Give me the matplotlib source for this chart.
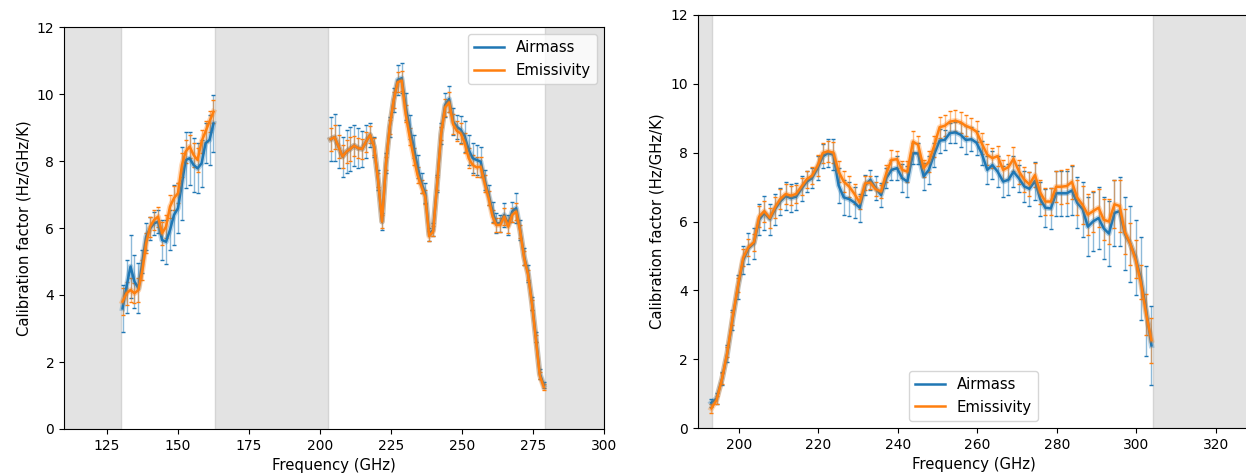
import numpy as np
import matplotlib
matplotlib.use("Agg")
import matplotlib.pyplot as plt


# ---- left panel: two observing bands ----
freq_a = [130.6, 132.0, 133.4, 134.8, 136.2, 137.6, 138.9, 140.3, 141.7, 143.1,
          144.5, 145.9, 147.3, 148.7, 150.1, 151.5, 152.8, 154.2, 155.6, 157.0,
          158.4, 159.8, 161.2, 162.6]
airmass_a = [3.60, 4.25, 4.85, 4.40, 4.20, 5.00, 5.74, 5.99, 6.14, 6.19,
             5.64, 5.59, 5.94, 6.39, 6.59, 7.33, 8.03, 8.08, 7.88, 7.78,
             7.93, 8.53, 8.63, 9.12]
airmass_a_err = [0.70, 0.80, 0.95, 0.80, 0.75, 0.35, 0.40, 0.35, 0.35, 0.35,
                 0.60, 0.65, 0.60, 0.90, 0.75, 1.10, 0.85, 0.80, 0.80, 0.75,
                 0.70, 0.60, 0.75, 0.85]
emis_a = [3.80, 4.05, 4.15, 4.05, 4.15, 4.75, 5.54, 6.04, 6.24, 6.34,
          5.84, 6.04, 6.64, 6.89, 7.04, 7.88, 8.28, 8.43, 8.18, 8.03,
          8.58, 8.88, 9.18, 9.47]
emis_a_err = [0.40, 0.35, 0.35, 0.30, 0.35, 0.30, 0.30, 0.30, 0.30, 0.30,
              0.35, 0.35, 0.35, 0.35, 0.30, 0.35, 0.35, 0.35, 0.35, 0.35,
              0.35, 0.30, 0.30, 0.35]

freq_b = [203.8, 205.2, 206.6, 208.0, 209.4, 210.7, 212.1, 213.5, 214.9, 216.3,
          217.7, 219.1, 220.5, 221.9, 223.3, 224.6, 226.0, 227.4, 228.8, 230.2,
          231.6, 233.0, 234.4, 235.8, 237.1, 238.5, 239.9, 241.3, 242.7, 244.1,
          245.5, 246.9, 248.2, 249.6, 251.0, 252.4, 253.8, 255.2, 256.6, 258.0,
          259.4, 260.8, 262.1, 263.5, 264.9, 266.3, 267.7, 269.1, 270.5, 271.9,
          273.3, 274.7, 276.0, 277.4, 278.8]
airmass_b = [8.65, 8.71, 8.43, 8.13, 8.28, 8.36, 8.46, 8.38, 8.36, 8.58,
             8.78, 8.43, 7.43, 6.19, 7.93, 9.02, 9.82, 10.42, 10.47, 9.62,
             9.02, 8.43, 7.83, 7.33, 7.04, 5.80, 5.95, 7.33, 8.82, 9.67,
             9.85, 9.18, 9.02, 8.93, 8.73, 8.33, 8.08, 8.03, 7.98, 7.43,
             6.99, 6.49, 6.14, 6.14, 6.39, 6.09, 6.49, 6.59, 5.94, 5.14,
             4.65, 3.75, 2.75, 1.65, 1.31]
airmass_b_err = [0.65, 0.70, 0.65, 0.60, 0.65, 0.65, 0.60, 0.60, 0.55, 0.50,
                 0.35, 0.30, 0.30, 0.25, 0.30, 0.30, 0.35, 0.45, 0.45, 0.40,
                 0.35, 0.35, 0.35, 0.30, 0.30, 0.20, 0.20, 0.25, 0.30, 0.35,
                 0.40, 0.40, 0.35, 0.40, 0.45, 0.45, 0.45, 0.45, 0.45, 0.30,
                 0.30, 0.30, 0.30, 0.25, 0.35, 0.30, 0.30, 0.45, 0.30, 0.25,
                 0.25, 0.20, 0.15, 0.15, 0.10]
emis_b = [8.65, 8.71, 8.43, 8.13, 8.28, 8.36, 8.46, 8.38, 8.36, 8.58,
          8.78, 8.43, 7.43, 6.19, 7.93, 9.02, 9.82, 10.35, 10.40, 9.42,
          8.73, 8.13, 7.58, 7.23, 6.93, 5.75, 5.90, 7.33, 8.82, 9.60,
          9.75, 9.10, 8.90, 8.82, 8.53, 8.08, 7.88, 7.81, 7.83, 7.33,
          6.89, 6.34, 6.09, 6.09, 6.34, 6.04, 6.39, 6.49, 5.90, 5.10,
          4.60, 3.70, 2.70, 1.60, 1.25]
emis_b_err = [0.35, 0.35, 0.35, 0.35, 0.35, 0.35, 0.30, 0.30, 0.30, 0.30,
              0.25, 0.25, 0.20, 0.20, 0.20, 0.20, 0.25, 0.30, 0.30, 0.25,
              0.25, 0.25, 0.25, 0.20, 0.20, 0.15, 0.15, 0.20, 0.20, 0.25,
              0.30, 0.30, 0.30, 0.30, 0.30, 0.30, 0.30, 0.30, 0.30, 0.25,
              0.20, 0.20, 0.20, 0.20, 0.25, 0.20, 0.20, 0.25, 0.20, 0.20,
              0.15, 0.15, 0.10, 0.10, 0.10]

# ---- right panel: one wide band ----
freq_c = [193.1, 194.4, 195.8, 197.1, 198.4, 199.8, 201.1, 202.4, 203.8, 205.1,
          206.4, 207.8, 209.1, 210.4, 211.8, 213.1, 214.4, 215.8, 217.1, 218.4,
          219.8, 221.1, 222.4, 223.8, 225.1, 226.4, 227.8, 229.1, 230.4, 231.8,
          233.1, 234.4, 235.8, 237.1, 238.4, 239.8, 241.1, 242.4, 243.8, 245.1,
          246.5, 247.8, 249.1, 250.5, 251.8, 253.1, 254.5, 255.8, 257.1, 258.5,
          259.8, 261.1, 262.5, 263.8, 265.1, 266.5, 267.8, 269.1, 270.5, 271.8,
          273.1, 274.5, 275.8, 277.1, 278.5, 279.8, 281.1, 282.5, 283.8, 285.1,
          286.5, 287.8, 289.1, 290.5, 291.8, 293.1, 294.5, 295.8, 297.1, 298.5,
          299.8, 301.1, 302.5, 303.8]
airmass_c = [0.73, 0.86, 1.44, 2.17, 3.14, 4.11, 4.88, 5.22, 5.37, 6.05,
             6.25, 6.07, 6.36, 6.58, 6.74, 6.68, 6.72, 6.96, 7.16, 7.26,
             7.55, 7.89, 7.99, 7.94, 7.05, 6.70, 6.65, 6.55, 6.40, 7.06,
             7.21, 6.97, 6.77, 7.26, 7.50, 7.55, 7.26, 7.16, 7.98, 7.98,
             7.31, 7.50, 7.94, 8.35, 8.37, 8.57, 8.59, 8.52, 8.37, 8.39,
             8.29, 7.98, 7.50, 7.64, 7.45, 7.16, 7.21, 7.45, 7.25, 7.02,
             6.95, 7.18, 6.66, 6.40, 6.38, 6.82, 6.82, 6.82, 6.90, 6.55,
             6.36, 5.85, 6.00, 6.10, 5.80, 5.65, 6.25, 6.30, 5.65, 5.35,
             4.95, 4.35, 3.40, 2.40]
airmass_c_err = [0.12, 0.15, 0.20, 0.25, 0.30, 0.35, 0.40, 0.45, 0.45, 0.45,
                 0.50, 0.45, 0.45, 0.40, 0.40, 0.40, 0.40, 0.35, 0.30, 0.30,
                 0.35, 0.35, 0.40, 0.45, 0.50, 0.50, 0.50, 0.45, 0.40, 0.30,
                 0.30, 0.35, 0.35, 0.30, 0.30, 0.35, 0.40, 0.45, 0.30, 0.30,
                 0.40, 0.40, 0.35, 0.35, 0.30, 0.30, 0.30, 0.35, 0.40, 0.35,
                 0.35, 0.35, 0.40, 0.40, 0.45, 0.45, 0.45, 0.45, 0.40, 0.45,
                 0.50, 0.55, 0.50, 0.55, 0.60, 0.65, 0.65, 0.65, 0.70, 0.75,
                 0.80, 0.85, 0.85, 0.90, 0.90, 0.95, 0.95, 1.00, 1.05, 1.10,
                 1.10, 1.20, 1.30, 1.15]
emis_c = [0.57, 0.81, 1.44, 2.20, 3.18, 4.15, 4.95, 5.25, 5.40, 6.14,
          6.30, 6.10, 6.41, 6.65, 6.80, 6.75, 6.80, 7.02, 7.23, 7.33,
          7.62, 7.99, 8.04, 8.00, 7.45, 7.16, 7.01, 6.80, 6.55, 7.11,
          7.13, 6.94, 6.87, 7.40, 7.79, 7.81, 7.50, 7.45, 8.32, 8.23,
          7.55, 7.74, 8.18, 8.74, 8.78, 8.90, 8.93, 8.88, 8.78, 8.71,
          8.61, 8.27, 7.94, 7.84, 7.90, 7.50, 7.58, 7.82, 7.45, 7.22,
          7.08, 7.35, 6.85, 6.58, 6.58, 7.01, 7.01, 7.03, 7.15, 6.70,
          6.48, 6.20, 6.30, 6.40, 6.05, 6.00, 6.50, 6.45, 5.70, 5.35,
          4.90, 4.25, 3.30, 2.55]
emis_c_err = [0.12, 0.12, 0.15, 0.15, 0.20, 0.20, 0.25, 0.25, 0.25, 0.30,
              0.30, 0.30, 0.30, 0.30, 0.28, 0.28, 0.25, 0.25, 0.25, 0.25,
              0.30, 0.30, 0.30, 0.30, 0.30, 0.30, 0.30, 0.30, 0.20, 0.20,
              0.20, 0.20, 0.20, 0.25, 0.30, 0.25, 0.25, 0.30, 0.30, 0.25,
              0.25, 0.30, 0.30, 0.30, 0.30, 0.30, 0.30, 0.30, 0.30, 0.30,
              0.30, 0.30, 0.30, 0.30, 0.30, 0.30, 0.35, 0.35, 0.35, 0.35,
              0.35, 0.35, 0.35, 0.40, 0.40, 0.45, 0.50, 0.50, 0.50, 0.50,
              0.55, 0.60, 0.60, 0.55, 0.60, 0.65, 0.70, 0.75, 0.65, 0.60,
              0.55, 0.50, 0.60, 0.65]

# masked (unused) frequency ranges
gaps_left = [(110, 130.1), (163.3, 202.9), (279.2, 300)]
gaps_right = [(189.6, 193.2), (304.3, 330)]

BLUE = "#1f77b4"
ORANGE = "#ff7f0e"


def draw(ax, f, y, e, color, label=None):
    eb = ax.errorbar(f, y, yerr=e, fmt="none", ecolor=color, elinewidth=1,
                     capsize=1.5, capthick=1, zorder=2)
    eb[2][0].set_alpha(0.5)
    ax.plot(f, y, color=color, lw=4, alpha=0.3, zorder=3)
    ax.plot(f, y, color=color, lw=1.8, label=label, zorder=3)


def shade(ax, gaps):
    for lo, hi in gaps:
        ax.axvspan(lo, hi, facecolor="0.89", edgecolor="0.83", lw=1, zorder=0)


W, H = 1246, 474
fig = plt.figure(figsize=(W / 100, H / 100), dpi=100)

# left
ax1 = fig.add_axes([64 / W, (H - 429) / H, 540 / W, 402 / H])
shade(ax1, gaps_left)
draw(ax1, freq_a, airmass_a, airmass_a_err, BLUE, "Airmass")
draw(ax1, freq_a, emis_a, emis_a_err, ORANGE, "Emissivity")
draw(ax1, freq_b, airmass_b, airmass_b_err, BLUE)
draw(ax1, freq_b, emis_b, emis_b_err, ORANGE)
ax1.set_xlim(110, 300)
ax1.set_ylim(0, 12)
ax1.set_xticks([125, 150, 175, 200, 225, 250, 275, 300])
ax1.set_xlabel("Frequency (GHz)", fontsize=10.7)
ax1.set_ylabel("Calibration factor (Hz/GHz/K)", fontsize=10.7)
ax1.legend(loc="upper right", fontsize=10.7)

# right
ax2 = fig.add_axes([697.5 / W, (H - 428) / H, 552.5 / W, 413 / H])
shade(ax2, gaps_right)
draw(ax2, freq_c, airmass_c, airmass_c_err, BLUE, "Airmass")
draw(ax2, freq_c, emis_c, emis_c_err, ORANGE, "Emissivity")
ax2.set_xlim(189.6, 328.6)
ax2.set_ylim(0, 12)
ax2.set_xticks([200, 220, 240, 260, 280, 300, 320])
ax2.set_xlabel("Frequency (GHz)", fontsize=10.7)
ax2.set_ylabel("Calibration factor (Hz/GHz/K)", fontsize=10.7)
ax2.legend(loc="lower center", fontsize=10.7)

fig.savefig("out.png", dpi=100)
